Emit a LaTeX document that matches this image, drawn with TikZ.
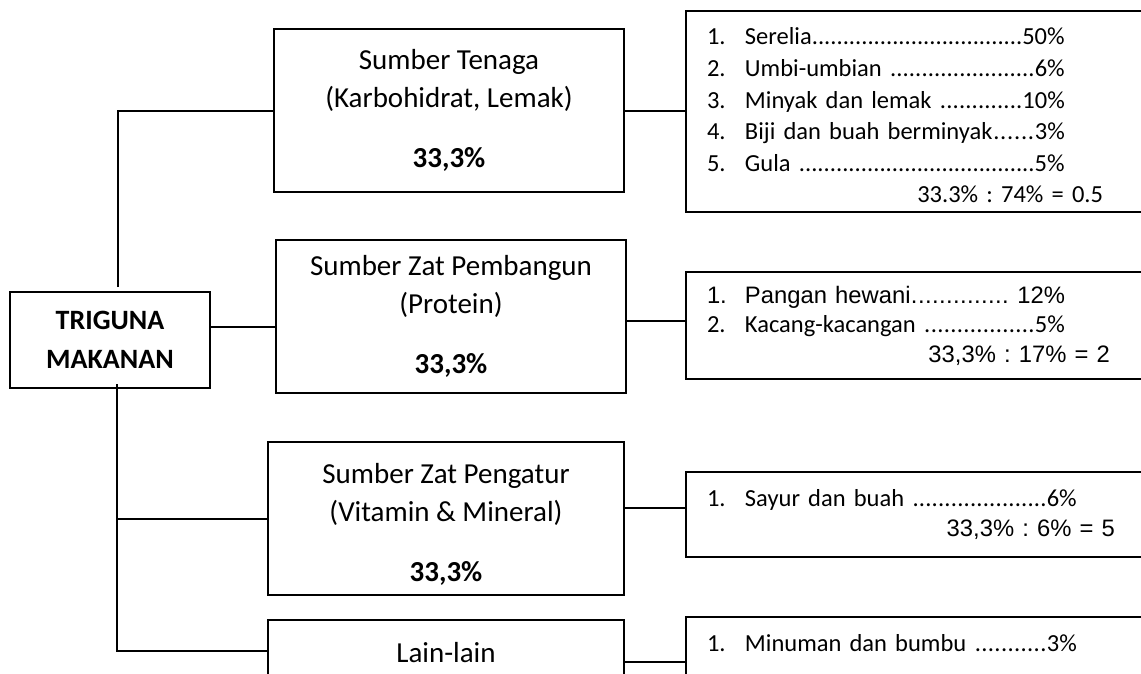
\documentclass[tikz,border=0pt]{standalone}
\usepackage{fontspec}
\setmainfont{Carlito}
\newfontfamily\arialfont{Liberation Sans}
\usepackage{tikz}
\frenchspacing
\newcommand{\titik}{\xleaders\hbox{.}\hfill}
\newcommand{\isi}[3]{\makebox[#1][l]{\makebox[38pt][l]{#2}#3}}
\newcommand{\hasil}[2]{\makebox[#1][r]{#2}}

\begin{document}
\begin{tikzpicture}[x=1pt,y=-1pt]
\tikzstyle{tengah}=[draw, line width=2.5pt, outer sep=0pt, inner sep=0pt, align=center, font=\fontsize{29}{38}\selectfont]
\tikzstyle{daftar}=[draw, line width=2.5pt, outer sep=0pt, anchor=north west, text width=440pt, inner xsep=21pt, inner ysep=0pt, align=left, font=\fontsize{24.5}{31.6}\selectfont]
\tikzstyle{garis}=[line width=2pt]
\useasboundingbox (0,0) rectangle (1141,673);
\clip (0,0) rectangle (1141,673);
% kotak utama
\node[tengah, minimum width=200, minimum height=96, font=\fontsize{28}{39}\selectfont\bfseries] (triguna) at (110,340) {TRIGUNA\\MAKANAN};
% kotak tengah
\node[tengah, minimum width=350, minimum height=163] (tenaga) at (449,110.5) {Sumber Tenaga\\(Karbohidrat, Lemak)\\[22pt]\textbf{33,3\%}};
\node[tengah, minimum width=350, minimum height=153] (pembangun) at (451,316.5) {Sumber Zat Pembangun\\(Protein)\\[22pt]\textbf{33,3\%}};
\node[tengah, minimum width=356, minimum height=153] (pengatur) at (446,518.5) {\rule{0pt}{32pt}Sumber Zat Pengatur\\(Vitamin \& Mineral)\\[22pt]\textbf{33,3\%}};
\node[tengah, minimum width=356, anchor=north, inner ysep=22.7pt, text depth=40pt] (lain) at (446,620) {Lain-lain};
% kotak kanan
\node[daftar, minimum height=201] (tenagaisi) at (686,11) {%
\rule{0pt}{25pt}\isi{358pt}{1.}{Serelia\titik50\%}\\
\isi{358pt}{2.}{Umbi-umbian \titik6\%}\\
\isi{358pt}{3.}{Minyak dan lemak \titik10\%}\\
\isi{358pt}{4.}{Biji dan buah berminyak\titik3\%}\\
\isi{358pt}{5.}{Gula \titik5\%}\\
\hasil{396pt}{33.3\% : 74\% = 0.5}};
\node[daftar, minimum height=107, font=\fontsize{24.5}{29.5}\selectfont] (pembangunisi) at (686,272) {%
{\arialfont\fontsize{23.8}{29.5}\selectfont\isi{358pt}{1.}{Pangan hewani\titik\ 12\%}}\\
\isi{358pt}{2.}{Kacang-kacangan \titik5\%}\\
{\arialfont\fontsize{23.8}{29.5}\selectfont\hasil{403pt}{33,3\% : 17\% = 2}}};
\node[daftar, minimum height=85, font=\fontsize{24.5}{30}\selectfont] (pengaturisi) at (686,472) {%
\isi{370pt}{1.}{Sayur dan buah \titik6\%}\\
{\arialfont\fontsize{23.8}{30}\selectfont\hasil{408pt}{33,3\% : 6\% = 5}}};
\node[daftar, inner ysep=17.8pt, text depth=40pt] (lainisi) at (686,617) {%
\isi{370pt}{1.}{Minuman dan bumbu \titik3\%}};
% garis penghubung
\coordinate (atas) at (118,287);
\coordinate (bawah) at (117,384);
\coordinate (tengah) at ([yshift=13pt]triguna.east);
\coordinate (kiri4) at ([yshift=-31pt]lain.north west);
\coordinate (kanan2) at ([yshift=-4pt]pembangun.east);
\coordinate (kanan3) at ([yshift=11pt]pengatur.east);
\coordinate (kanan4) at ([yshift=-42pt]lain.north east);
\draw[garis] (atas) |- (tenaga.west);
\draw[garis] (tengah) -- (tengah -| pembangun.west);
\draw[garis] (bawah) |- (pengatur.west);
\draw[garis] (bawah) |- (kiri4);
\draw[garis] (tenaga.east) -- (tenaga.east -| tenagaisi.west);
\draw[garis] (kanan2) -- (kanan2 -| pembangunisi.west);
\draw[garis] (kanan3) -- (kanan3 -| pengaturisi.west);
\draw[garis] (kanan4) -- (kanan4 -| lainisi.west);
\end{tikzpicture}
\end{document}
